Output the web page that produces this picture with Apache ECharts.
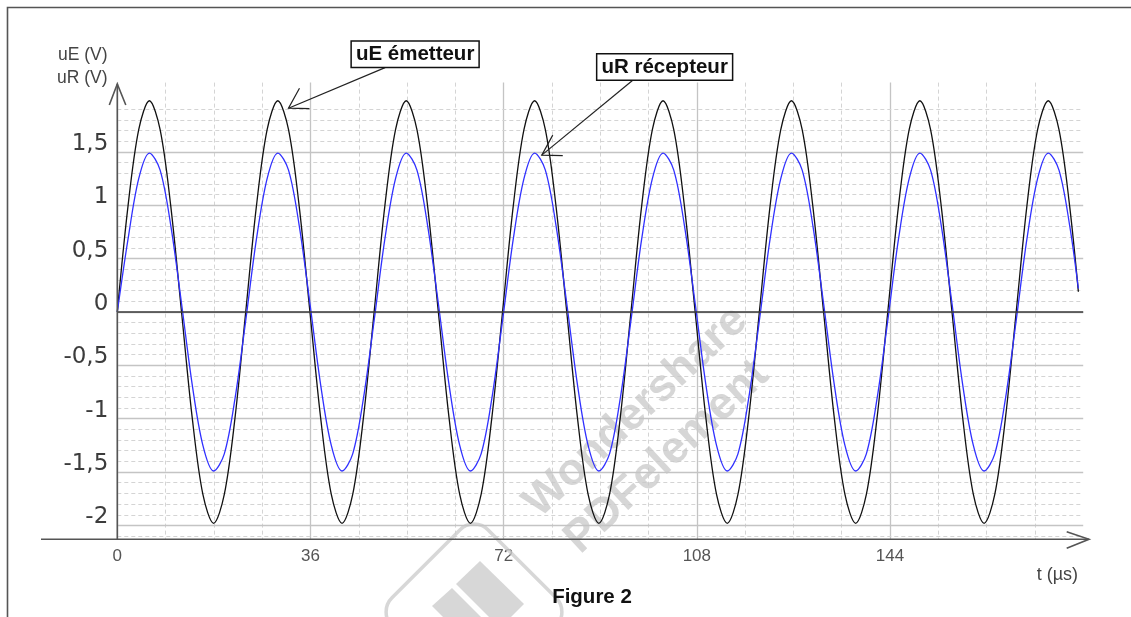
<!DOCTYPE html>
<html><head><meta charset="utf-8">
<script src="https://cdn.jsdelivr.net/npm/echarts@6/dist/echarts.min.js"></script>
<style>html,body{margin:0;padding:0;background:#fff}#c{width:1131px;height:617px}</style>
</head><body><div id="c"></div>
<script>
// ---- data ----
const timeUs = [
  0, 1.99, 3.99, 5.98, 7.98, 9.97, 11.97, 13.96, 15.95, 17.95, 19.94, 21.94,
  23.93, 25.92, 27.92, 29.91, 31.91, 33.90, 35.90, 37.89, 39.88, 41.88, 43.87, 45.87,
  47.86, 49.85, 51.85, 53.84, 55.84, 57.83, 59.83, 61.82, 63.81, 65.81, 67.80, 69.80,
  71.79, 73.78, 75.78, 77.77, 79.77, 81.76, 83.76, 85.75, 87.74, 89.74, 91.73, 93.73,
  95.72, 97.71, 99.71, 101.70, 103.70, 105.69, 107.69, 109.68, 111.67, 113.67, 115.66, 117.66,
  119.65, 121.64, 123.64, 125.63, 127.63, 129.62, 131.62, 133.61, 135.60, 137.60, 139.59, 141.59,
  143.58, 145.57, 147.57, 149.56, 151.56, 153.55, 155.55, 157.54, 159.53, 161.53, 163.52, 165.52,
  167.51, 169.50, 171.50, 173.49, 175.49, 177.48, 179.10
];
const uE = [
  0, 0.99, 1.71, 1.98, 1.71, 0.99, 0, -0.99, -1.71, -1.98, -1.71, -0.99,
  0, 0.99, 1.71, 1.98, 1.71, 0.99, 0, -0.99, -1.71, -1.98, -1.71, -0.99,
  0, 0.99, 1.71, 1.98, 1.71, 0.99, 0, -0.99, -1.71, -1.98, -1.71, -0.99,
  0, 0.99, 1.71, 1.98, 1.71, 0.99, 0, -0.99, -1.71, -1.98, -1.71, -0.99,
  0, 0.99, 1.71, 1.98, 1.71, 0.99, 0, -0.99, -1.71, -1.98, -1.71, -0.99,
  0, 0.99, 1.71, 1.98, 1.71, 0.99, 0, -0.99, -1.71, -1.98, -1.71, -0.99,
  0, 0.99, 1.71, 1.98, 1.71, 0.99, 0, -0.99, -1.71, -1.98, -1.71, -0.99,
  0, 0.99, 1.71, 1.98, 1.71, 0.99, 0.19
];
const uR = [
  0, 0.68, 1.25, 1.49, 1.33, 0.81, 0.08, -0.68, -1.25, -1.49, -1.33, -0.81,
  -0.08, 0.68, 1.25, 1.49, 1.33, 0.81, 0.08, -0.68, -1.25, -1.49, -1.33, -0.81,
  -0.08, 0.68, 1.25, 1.49, 1.33, 0.81, 0.08, -0.68, -1.25, -1.49, -1.33, -0.81,
  -0.08, 0.68, 1.25, 1.49, 1.33, 0.81, 0.08, -0.68, -1.25, -1.49, -1.33, -0.81,
  -0.08, 0.68, 1.25, 1.49, 1.33, 0.81, 0.08, -0.68, -1.25, -1.49, -1.33, -0.81,
  -0.08, 0.68, 1.25, 1.49, 1.33, 0.81, 0.08, -0.68, -1.25, -1.49, -1.33, -0.81,
  -0.08, 0.68, 1.25, 1.49, 1.33, 0.81, 0.08, -0.68, -1.25, -1.49, -1.33, -0.81,
  -0.08, 0.68, 1.25, 1.49, 1.33, 0.81, 0.22
];
const yMajorTicks = [-2, -1.5, -1, -0.5, 0, 0.5, 1, 1.5];
const yMinorTicks = [-2.1, -1.9, -1.8, -1.7, -1.6, -1.4, -1.3, -1.2, -1.1, -0.9, -0.8, -0.7, -0.6,
  -0.4, -0.3, -0.2, -0.1, 0.1, 0.2, 0.3, 0.4, 0.6, 0.7, 0.8, 0.9, 1.1, 1.2, 1.3, 1.4, 1.6, 1.7, 1.8, 1.9];
const annotationTexts = ['uE émetteur', 'uR récepteur'];
const annotationTips = [[31.9, 1.91], [79.1, 1.47]];
const annotationAnchors = [[49.9, 2.29], [96.0, 2.17]];
const annotationBoxes = [[55.5, 2.415], [102.0, 2.296]];
const yAxisTitles = ['uE (V)', 'uR (V)'];
const xAxisTitle = 't (µs)';
const figureCaption = 'Figure 2';

const yMin = -2.13, yMax = 2.15;
const chart = echarts.init(document.getElementById('c'), null, {renderer: 'canvas'});
const gridMajor = '#c4c4c4', gridMinor = '#d4d4d4';
chart.setOption({
  animation: false,
  backgroundColor: '#ffffff',
  grid: {left: 117.3, right: 47.8, top: 82.6, bottom: 77.7},
  xAxis: {
    type: 'value', min: 0, max: 180, interval: 36,
    axisLine: {show: false}, axisTick: {show: false},
    axisLabel: {showMaxLabel: false, color: '#555', fontSize: 17, fontFamily: '"Liberation Sans", Arial, sans-serif', margin: 9},
    splitLine: {show: true, showMaxLine: false, lineStyle: {color: gridMajor, width: 1.3}},
    minorTick: {show: false, splitNumber: 4},
    minorSplitLine: {show: true, lineStyle: {color: gridMinor, width: 1, type: [4, 3]}}
  },
  yAxis: [
    {
      type: 'value', min: yMin, max: yMax, z: 2,
      axisLine: {show: false},
      axisTick: {show: false, customValues: yMajorTicks},
      axisLabel: {customValues: yMajorTicks, formatter: v => String(v).replace('.', ','),
        color: '#3c3c3c', fontSize: 23, fontFamily: '"DejaVu Sans", sans-serif', margin: 9,
        verticalAlign: 'bottom', lineHeight: 16},
      splitLine: {show: true, lineStyle: {color: gridMajor, width: 1.3}}
    },
    {
      type: 'value', min: yMin, max: yMax, z: 1,
      axisLine: {show: false},
      axisTick: {show: false, customValues: yMinorTicks},
      axisLabel: {show: false, customValues: yMinorTicks},
      splitLine: {show: true, lineStyle: {color: gridMinor, width: 1, type: [4, 3]}}
    }
  ],
  series: [
    {
      name: 'uE', type: 'line', yAxisIndex: 0, showSymbol: false, smooth: 0.33,
      data: timeUs.map((t, i) => [t, uE[i]]),
      lineStyle: {color: '#111', width: 1.3}, z: 3,
      markLine: {silent: true, symbol: 'none', label: {show: false},
        lineStyle: {color: '#3a3a3a', width: 1.6, type: 'solid'}, data: [{yAxis: 0}]}
    },
    {
      name: 'uR', type: 'line', yAxisIndex: 0, showSymbol: false, smooth: 0.33,
      data: timeUs.map((t, i) => [t, uR[i]]),
      lineStyle: {color: '#3030ff', width: 1.3}, z: 4
    }
  ]
});

const P = v => chart.convertToPixel({gridIndex: 0}, v);
const o = P([0, yMin]);
const ox = o[0], oy = o[1];
const axisStroke = {stroke: '#555', lineWidth: 1.6, fill: null};
const g = [];
// outer frame
g.push({type: 'polyline', shape: {points: [[7.5, 617], [7.5, 7.5], [1131, 7.5]]}, style: {stroke: '#555', lineWidth: 1.6, fill: null}, z: 10});
// watermark
const wm = 'rgba(200,200,200,0.75)';
g.push({type: 'text', x: 636, y: 412, rotation: 43 * Math.PI / 180, z: 1,
  style: {text: 'Wondershare', font: 'bold 45px "Liberation Sans", Arial', fill: wm, align: 'center', verticalAlign: 'middle'}});
g.push({type: 'text', x: 667, y: 457, rotation: 43 * Math.PI / 180, z: 1,
  style: {text: 'PDFelement', font: 'bold 45px "Liberation Sans", Arial', fill: wm, align: 'center', verticalAlign: 'middle'}});
g.push({type: 'rect', x: 474, y: 612, rotation: 45 * Math.PI / 180, z: 1,
  shape: {x: -68, y: -68, width: 136, height: 136, r: 20}, style: {stroke: 'rgba(205,205,205,0.8)', lineWidth: 3.5, fill: null}});
g.push({type: 'polygon', z: 1, shape: {points: [[456, 584], [480, 561], [524, 604], [511, 617], [489, 617]]},
  style: {fill: 'rgba(205,205,205,0.8)'}});
g.push({type: 'polygon', z: 1, shape: {points: [[432, 606], [452, 588], [481, 617], [443, 617]]},
  style: {fill: 'rgba(205,205,205,0.8)'}});
// axes with open arrowheads
g.push({type: 'line', shape: {x1: 41, y1: oy, x2: 1089, y2: oy}, style: axisStroke, z: 20});
g.push({type: 'polyline', shape: {points: [[1066.7, oy - 7.6], [1089, oy], [1066.7, oy + 9]]}, style: axisStroke, z: 20});
g.push({type: 'line', shape: {x1: ox, y1: oy, x2: ox, y2: 84}, style: axisStroke, z: 20});
g.push({type: 'polyline', shape: {points: [[ox - 8, 105], [ox, 84], [ox + 8.5, 105]]}, style: axisStroke, z: 20});
// axis titles
const titleFont = '17.5px "Liberation Sans", Arial';
g.push({type: 'text', x: 107.5, y: 55, z: 20, style: {text: yAxisTitles[0], font: titleFont, fill: '#444', align: 'right', verticalAlign: 'middle'}});
g.push({type: 'text', x: 107.5, y: 78, z: 20, style: {text: yAxisTitles[1], font: titleFont, fill: '#444', align: 'right', verticalAlign: 'middle'}});
g.push({type: 'text', x: 1078, y: 575, z: 20, style: {text: xAxisTitle, font: '18px "Liberation Sans", Arial', fill: '#444', align: 'right', verticalAlign: 'middle'}});
g.push({type: 'text', x: 592, y: 597, z: 20, style: {text: figureCaption, font: 'bold 20.5px "Liberation Sans", Arial', fill: '#111', align: 'center', verticalAlign: 'middle'}});
// annotations
annotationTexts.forEach((txt, i) => {
  const tip = P(annotationTips[i]);
  const an = P(annotationAnchors[i]);
  const bx = P(annotationBoxes[i]);
  g.push({type: 'line', z: 30, shape: {x1: an[0], y1: an[1], x2: tip[0], y2: tip[1]}, style: {stroke: '#222', lineWidth: 1.2}});
  g.push({type: 'polyline', z: 30, shape: {points: [[tip[0] + 11, tip[1] - 20], [tip[0], tip[1]], [tip[0] + 21, tip[1] + 0.5]]}, style: {stroke: '#222', lineWidth: 1.2, fill: null}});
  g.push({type: 'text', x: bx[0], y: bx[1], z: 31, style: {text: txt, font: 'bold 20.5px "Liberation Sans", Arial', fill: '#111',
    align: 'center', verticalAlign: 'middle', backgroundColor: '#fff', borderColor: '#111', borderWidth: 1.5, padding: [2, 4, 2, 4]}});
});
chart.setOption({graphic: g});
</script></body></html>
